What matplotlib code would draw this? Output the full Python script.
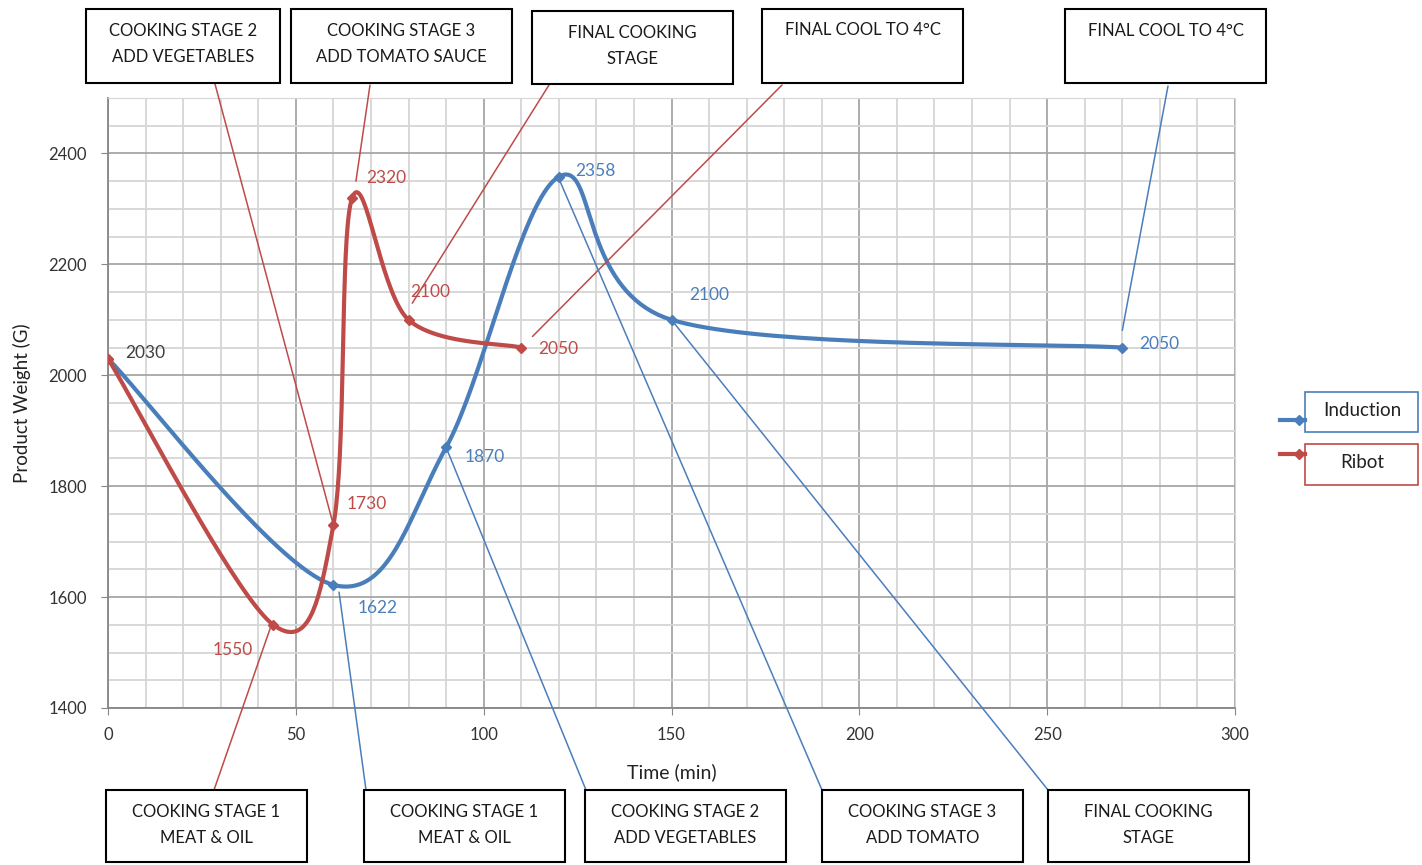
import numpy as np
import matplotlib
matplotlib.use('Agg')
import matplotlib.pyplot as plt
from matplotlib.patches import Rectangle, ConnectionPatch
from matplotlib.lines import Line2D

plt.rcParams['font.family'] = ['Lato', 'DejaVu Sans']

# data
induction_t = [0, 60, 90, 120, 150, 270]
induction_w = [2030, 1622, 1870, 2358, 2100, 2050]
ribot_t = [0, 44, 60, 65, 80, 110]
ribot_w = [2030, 1550, 1730, 2320, 2100, 2050]

BLUE = '#4a7ebb'
RED = '#be4b48'
W, H = 1422, 865


def smooth(xs, ys, n=40):
    # excel style smoothed line (catmull-rom as cubic bezier)
    xs = np.asarray(xs, float)
    ys = np.asarray(ys, float)
    px = np.concatenate([[xs[0]], xs, [xs[-1]]])
    py = np.concatenate([[ys[0]], ys, [ys[-1]]])
    outx, outy = [], []
    t = np.linspace(0, 1, n)
    for i in range(1, len(px) - 2):
        p0 = np.array([px[i], py[i]])
        p3 = np.array([px[i + 1], py[i + 1]])
        p1 = p0 + (p3 - np.array([px[i - 1], py[i - 1]])) / 6.0
        p2 = p3 - (np.array([px[i + 2], py[i + 2]]) - p0) / 6.0
        b = ((1 - t) ** 3)[:, None] * p0 + (3 * (1 - t) ** 2 * t)[:, None] * p1 \
            + (3 * (1 - t) * t ** 2)[:, None] * p2 + (t ** 3)[:, None] * p3
        outx.extend(b[:, 0])
        outy.extend(b[:, 1])
    return outx, outy


def fig_xy(px, py):
    return px / W, 1 - py / H


fig = plt.figure(figsize=(W / 100, H / 100), dpi=100)
ax = fig.add_axes([108 / W, 1 - 708 / H, (1235 - 108) / W, (708 - 98) / H])

ax.set_xlim(0, 300)
ax.set_ylim(1400, 2500)
ax.set_xticks(np.arange(0, 301, 50))
ax.set_xticks(np.arange(0, 301, 10), minor=True)
ax.set_yticks(np.arange(1400, 2401, 200))
ax.set_yticks(np.arange(1400, 2501, 50), minor=True)
ax.grid(which='major', color='#a6a6a6', lw=1.3)
ax.grid(which='minor', color='#d6d6d6', lw=1.3)
ax.set_axisbelow(True)
for s in ['top', 'right']:
    ax.spines[s].set_color('#d6d6d6')
for s in ['left', 'bottom']:
    ax.spines[s].set_color('#868686')
    ax.spines[s].set_linewidth(1.3)
ax.tick_params(which='major', length=5, color='#868686', labelsize=12, labelcolor='#333333')
ax.tick_params(axis='y', pad=10)
ax.tick_params(axis='x', pad=9)
ax.tick_params(which='minor', length=0)
ax.set_xlabel('Time (min)', fontsize=14, color='#222222', labelpad=14)
ax.set_ylabel('Product Weight (G)', fontsize=13.5, color='#222222', labelpad=13)

for t, w, c in [(induction_t, induction_w, BLUE), (ribot_t, ribot_w, RED)]:
    sx, sy = smooth(t, w)
    ax.plot(sx, sy, color=c, lw=3, solid_capstyle='round', zorder=3)
    ax.plot(t, w, ls='none', marker='D', ms=5, color=c, zorder=4)

# data label offsets (min, g) from each point
ind_off = [(4.5, 10), (6.5, -42), (4.8, -18), (4.3, 11), (4.6, 44), (4.4, 6)]
rib_off = [(-5.4, -45), (3.6, 38), (3.7, 35), (0.4, 50), (4.5, -3)]
ax.text(induction_t[0] + ind_off[0][0], induction_w[0] + ind_off[0][1], str(induction_w[0]),
        fontsize=12.5, color='#404040', va='center')
for i in range(1, len(induction_t)):
    dx, dy = ind_off[i]
    ax.text(induction_t[i] + dx, induction_w[i] + dy, str(induction_w[i]),
            fontsize=12.5, color=BLUE, va='center', ha='left')
for i in range(1, len(ribot_t)):
    dx, dy = rib_off[i - 1]
    ax.text(ribot_t[i] + dx, ribot_w[i] + dy, str(ribot_w[i]),
            fontsize=12.5, color=RED, va='center', ha='left' if dx > 0 else 'right')

# callout boxes: text, box (x0, y0, x1, y1) px, line start px, line end data, colour, text y px
callouts = [
    ('COOKING STAGE 2\nADD VEGETABLES', (86, 9, 280, 83), (215, 84), (60, 1730), RED, 44),
    ('COOKING STAGE 3\nADD TOMATO SAUCE', (291, 9, 512, 83), (370, 85), (66, 2350), RED, 44),
    ('FINAL COOKING\nSTAGE', (532, 11, 733, 84), (549, 85), (81, 2130), RED, 46),
    ('FINAL COOL TO 4°C', (762, 9, 963, 83), (782, 85), (113, 2070), RED, 30),
    ('FINAL COOL TO 4°C', (1065, 9, 1266, 83), (1168, 86), (270, 2081), BLUE, 31),
    ('COOKING STAGE 1\nMEAT & OIL', (106, 790, 307, 862), (214, 790), (43.5, 1550), RED, 825),
    ('COOKING STAGE 1\nMEAT & OIL', (364, 790, 565, 862), (366, 790), (61.5, 1609), BLUE, 825),
    ('COOKING STAGE 2\nADD VEGETABLES', (585, 790, 786, 862), (586, 790), (90, 1870), BLUE, 825),
    ('COOKING STAGE 3\nADD TOMATO', (822, 790, 1023, 862), (822, 790), (120, 2355), BLUE, 825),
    ('FINAL COOKING\nSTAGE', (1048, 790, 1249, 862), (1048, 790), (150, 2100), BLUE, 825),
]
for text, (x0, y0, x1, y1), start, end, c, ty in callouts:
    fx0, fy1 = fig_xy(x0, y1)
    fx1, fy0 = fig_xy(x1, y0)
    fig.add_artist(Rectangle((fx0, fy1), fx1 - fx0, fy0 - fy1, transform=fig.transFigure,
                             fill=True, facecolor='white', edgecolor='black', lw=1.5, zorder=5))
    tx, tyf = fig_xy((x0 + x1) / 2, ty)
    fig.text(tx, tyf, text, ha='center', va='center', fontsize=12, color='#1a1a1a',
             linespacing=1.75, zorder=6)
    con = ConnectionPatch(xyA=fig_xy(*start), coordsA=fig.transFigure, xyB=end,
                          coordsB=ax.transData, color=c, lw=1.1, zorder=4)
    fig.add_artist(con)

# legend
for name, c, (y0, y1), ly in [('Induction', BLUE, (392, 432), 420), ('Ribot', RED, (444, 485), 454)]:
    fx0, fy1 = fig_xy(1305, y1)
    fx1, fy0 = fig_xy(1418, y0)
    fig.add_artist(Rectangle((fx0, fy1), fx1 - fx0, fy0 - fy1, transform=fig.transFigure,
                             fill=False, edgecolor=c, lw=1.2))
    tx, ty = fig_xy(1362, (y0 + y1) / 2 - 2)
    fig.text(tx, ty, name, ha='center', va='center', fontsize=13.5, color='#222222')
    lx0, lyf = fig_xy(1280, ly)
    lx1, _ = fig_xy(1305, ly)
    fig.add_artist(Line2D([lx0, lx1], [lyf, lyf], transform=fig.transFigure, color=c, lw=3))
    mx, _ = fig_xy(1299, ly)
    fig.add_artist(Line2D([mx], [lyf], transform=fig.transFigure, color=c, marker='D', ms=5))

fig.savefig('out.png', dpi=100)
